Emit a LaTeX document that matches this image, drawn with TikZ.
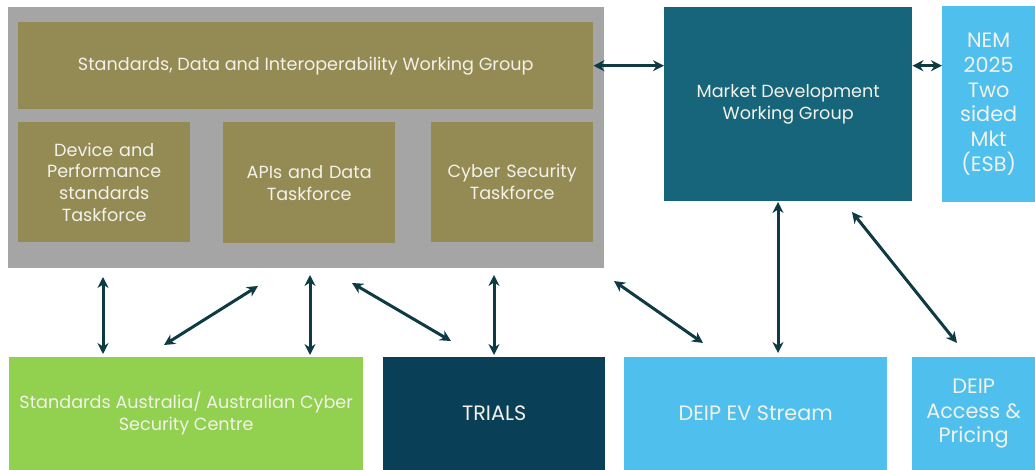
\documentclass[tikz,border=0pt]{standalone}
\usepackage{fontspec}
\setmainfont{Poppins}
\usetikzlibrary{arrows.meta,calc}
\definecolor{graybg}{HTML}{A5A5A5}
\definecolor{olive}{HTML}{948A54}
\definecolor{teal}{HTML}{17657A}
\definecolor{lblue}{HTML}{4FBFEE}
\definecolor{lgreen}{HTML}{92D050}
\definecolor{navy}{HTML}{0A3F58}
\definecolor{arrowc}{HTML}{0E3A44}
\definecolor{txt}{HTML}{F2F2EA}
\tikzset{
  box/.style={anchor=north west, inner sep=0pt, text=txt, align=center,
    font=\fontsize{17.6}{21.8}\selectfont},
  bigtxt/.style={font=\fontsize{20.8}{24.8}\selectfont},
  link/.style={draw=arrowc, line width=3pt, {Stealth[length=11pt,width=11pt]}-{Stealth[length=11pt,width=11pt]}}
}
\begin{document}
\begin{tikzpicture}[x=1pt,y=-1pt]
\useasboundingbox (0,0) rectangle (1035,470);
% gray container
\node[box, fill=graybg, minimum width=596pt, minimum height=261pt] (grp) at (8,7) {};
\node[box, fill=olive, minimum width=575pt, minimum height=87pt] (sdwg) at (18,22) {Standards, Data and Interoperability Working Group};
\node[box, fill=olive, minimum width=172pt, minimum height=120pt, text width=166pt] (dev) at (18,122) {Device and\\Performance\\standards\\Taskforce};
\node[box, fill=olive, minimum width=172pt, minimum height=121pt, text width=166pt] (api) at (223,122) {APIs and Data\\Taskforce};
\node[box, fill=olive, minimum width=162pt, minimum height=120pt, text width=156pt] (cyb) at (431,122) {Cyber Security\\Taskforce};
% right top
\node[box, fill=teal, minimum width=248pt, minimum height=194pt] (mdwg) at (664,7) {Market Development\\Working Group};
\node[box, bigtxt, fill=lblue, minimum width=93pt, minimum height=196pt] (nem) at (942,6) {NEM\\2025\\Two\\sided\\Mkt\\(ESB)};
% bottom row
\node[box, fill=lgreen, minimum width=354pt, minimum height=113pt] (sa) at (9,357) {Standards Australia/ Australian Cyber\\Security Centre};
\node[box, bigtxt, fill=navy, minimum width=222pt, minimum height=113pt] (trials) at (383,357) {TRIALS};
\node[box, bigtxt, fill=lblue, minimum width=263pt, minimum height=113pt] (ev) at (624,357) {DEIP EV Stream};
\node[box, bigtxt, fill=lblue, minimum width=123pt, minimum height=113pt] (acc) at (912,357) {DEIP\\Access \&\\Pricing};
% connectors
\draw[link] (sdwg.east) -- (sdwg.east -| mdwg.west);
\draw[link] (mdwg.east |- sdwg.east) -- (nem.west |- sdwg.east);
\coordinate (a1) at (103,277); \coordinate (b1) at (103,354);
\coordinate (a2) at (258,286); \coordinate (b2) at (164,345);
\coordinate (a3) at (310,275); \coordinate (b3) at (310,355);
\coordinate (a4) at (352,283); \coordinate (b4) at (451,341);
\coordinate (a5) at (494,275); \coordinate (b5) at (494,355);
\coordinate (a6) at (614,281); \coordinate (b6) at (703,343);
\coordinate (a7) at (778,202); \coordinate (b7) at (778,353);
\coordinate (a8) at (852,212); \coordinate (b8) at (957,343);
\draw[link] (a1) -- (b1);
\draw[link] (a2) -- (b2);
\draw[link] (a3) -- (b3);
\draw[link] (a4) -- (b4);
\draw[link] (a5) -- (b5);
\draw[link] (a6) -- (b6);
\draw[link] (a7) -- (b7);
\draw[link] (a8) -- (b8);
\end{tikzpicture}
\end{document}
